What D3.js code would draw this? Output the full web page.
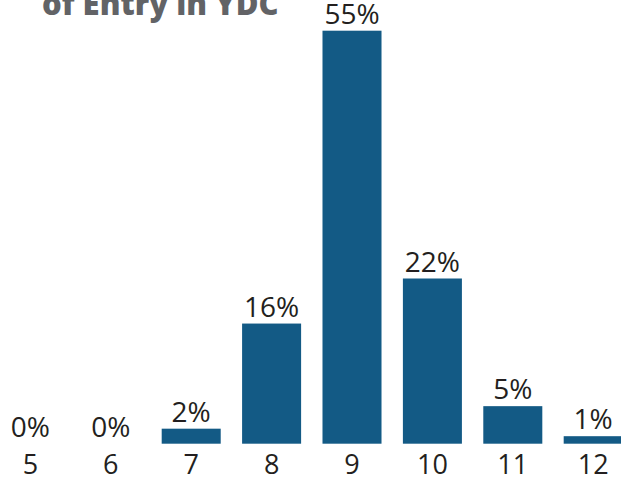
<!DOCTYPE html>
<html>
<head>
<meta charset="utf-8">
<script src="https://cdn.jsdelivr.net/npm/d3@7"></script>
<style>
  html, body { margin: 0; padding: 0; background: #fff; }
  svg { display: block; }
</style>
</head>
<body>
<svg id="chart" width="621" height="481"></svg>
<script>
const titleLine = "of Entry in YDC";
const ages = ["5", "6", "7", "8", "9", "10", "11", "12"];
const percents = [0, 0, 2, 16, 55, 22, 5, 1];
const percentLabels = ["0%", "0%", "2%", "16%", "55%", "22%", "5%", "1%"];

const svg = d3.select("#chart");
const baseY = 443.7;

const x = d3.scaleBand()
  .domain(ages)
  .range([-9.8, 633.4])
  .paddingInner(0.266)
  .paddingOuter(0.133);

const y = d3.scaleLinear()
  .domain([0, 55])
  .range([baseY, 30.7]);

const data = ages.map((a, i) => ({ age: a, v: percents[i], label: percentLabels[i] }));

// Title (second line of a title, partially cut off at top)
svg.append("text")
  .attr("x", 42)
  .attr("y", 15)
  .attr("font-family", "'Open Sans', sans-serif")
  .attr("font-weight", 800)
  .attr("font-size", 31)
  .attr("fill", "#626366")
  .text(titleLine);

// Bars
svg.append("g").selectAll("rect")
  .data(data)
  .join("rect")
  .attr("x", d => x(d.age))
  .attr("width", x.bandwidth())
  .attr("y", d => y(d.v))
  .attr("height", d => y(0) - y(d.v))
  .attr("fill", "#135a85");

// Value labels
svg.append("g").selectAll("text")
  .data(data)
  .join("text")
  .attr("x", d => x(d.age) + x.bandwidth() / 2)
  .attr("y", d => y(d.v) - 7)
  .attr("text-anchor", "middle")
  .attr("font-family", "'Open Sans', sans-serif")
  .attr("font-size", 28)
  .attr("fill", "#231f20")
  .text(d => d.label);

// Category axis
const axis = d3.axisBottom(x).tickSize(0).tickPadding(0);
const gAxis = svg.append("g")
  .attr("transform", `translate(0,${baseY})`)
  .call(axis);
gAxis.select(".domain").remove();
gAxis.selectAll("text")
  .attr("dy", null)
  .attr("y", 30.5)
  .attr("font-family", "'Open Sans', sans-serif")
  .attr("font-size", 27)
  .attr("fill", "#231f20");
</script>
</body>
</html>
